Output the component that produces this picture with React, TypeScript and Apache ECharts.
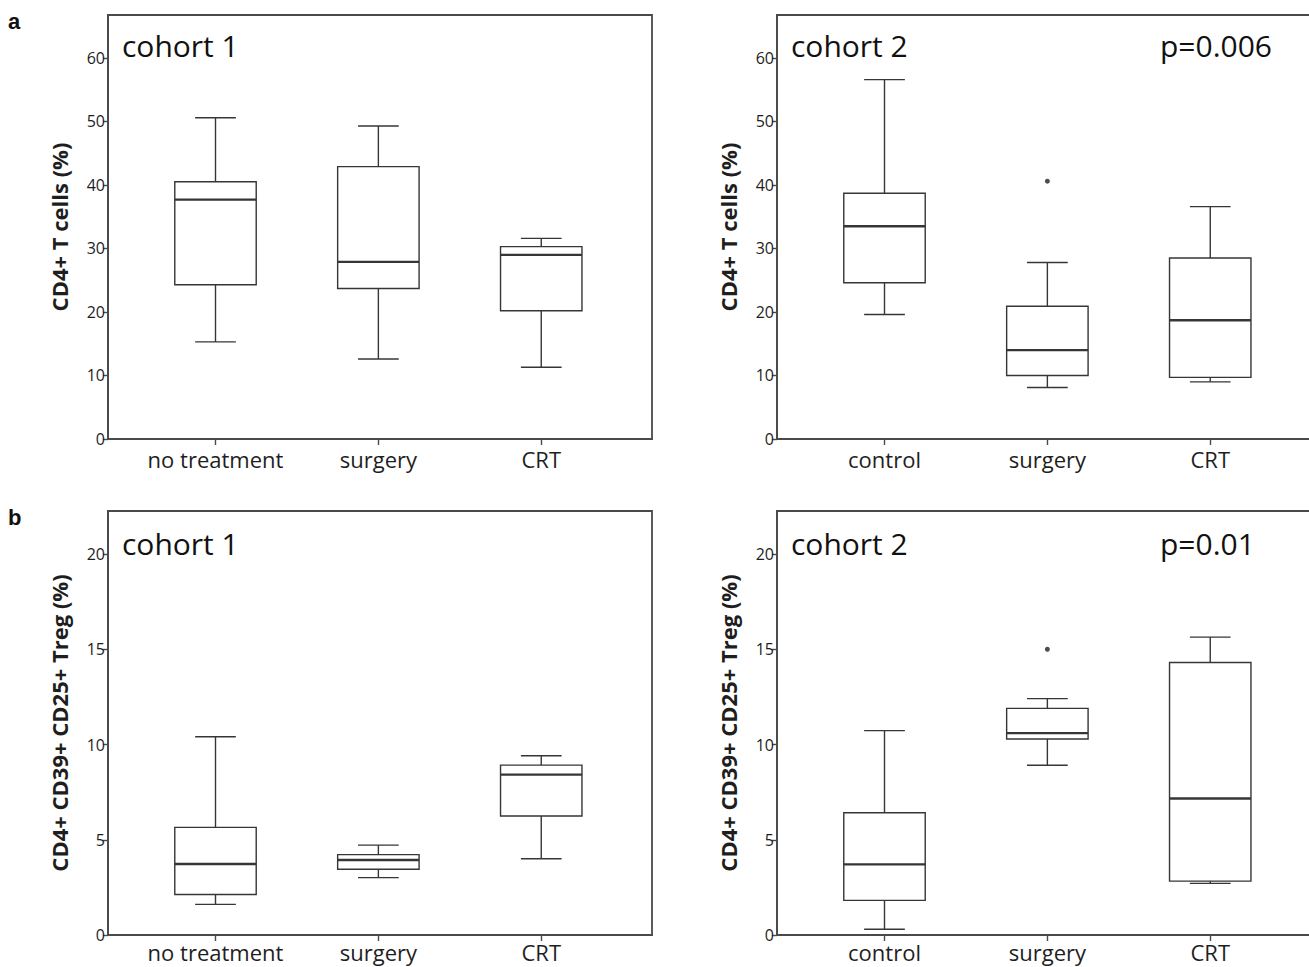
import React, { useEffect, useRef } from 'react';
import * as echarts from 'echarts';

// ---------- data ----------
const cohort1Categories = ['no treatment', 'surgery', 'CRT'];
const cohort2Categories = ['control', 'surgery', 'CRT'];

// each box: [lower whisker, Q1, median, Q3, upper whisker]
const cd4Cohort1 = [
  [15.3, 24.3, 37.7, 40.5, 50.6],
  [12.6, 23.7, 27.9, 42.9, 49.3],
  [11.3, 20.2, 29.0, 30.3, 31.6],
];
const cd4Cohort2 = [
  [19.6, 24.6, 33.5, 38.7, 56.6],
  [8.1, 10.0, 14.0, 20.9, 27.8],
  [9.0, 9.7, 18.7, 28.5, 36.6],
];
const cd4Cohort1Outliers: number[][] = [];
const cd4Cohort2Outliers = [[1, 40.6]];

const tregCohort1 = [
  [1.61, 2.13, 3.73, 5.65, 10.41],
  [3.01, 3.45, 3.94, 4.22, 4.72],
  [4.0, 6.25, 8.42, 8.92, 9.41],
];
const tregCohort2 = [
  [0.3, 1.82, 3.71, 6.42, 10.73],
  [8.91, 10.29, 10.6, 11.9, 12.41],
  [2.71, 2.83, 7.17, 14.31, 15.64],
];
const tregCohort1Outliers: number[][] = [];
const tregCohort2Outliers = [[1, 15.0]];

const cd4Ticks = [0, 10, 20, 30, 40, 50, 60];
const tregTicks = [0, 5, 10, 15, 20];
const cd4AxisMax = 66.77;
const tregAxisMax = 22.26;

const cd4Title = 'CD4+ T cells (%)';
const tregTitle = 'CD4+ CD39+ CD25+ Treg (%)';
const cohortLabels = ['cohort 1', 'cohort 2', 'cohort 1', 'cohort 2'];
const pValueLabels = ['', 'p=0.006', '', 'p=0.01'];
const rowLetters = ['a', 'b'];

// ---------- layout / style ----------
const FONT = '"Open Sans", "DejaVu Sans", sans-serif';
const AXIS_COLOR = '#4a4a4a';
const LINE_COLOR = '#363636';
const TEXT_COLOR = '#1e1e1e';
const BOX_WIDTH_RATIO = 0.5;
const CAP_WIDTH_RATIO = 0.25;
const X_MIN = -0.66;
const X_MAX = 2.68;

const panelLayout = [
  { left: 108, top: 15 },
  { left: 777, top: 15 },
  { left: 108, top: 511 },
  { left: 777, top: 511 },
];
const PANEL_W = 544;
const PANEL_H = 424;

const panels = [
  { cats: cohort1Categories, boxes: cd4Cohort1, outliers: cd4Cohort1Outliers, ticks: cd4Ticks, max: cd4AxisMax, title: cd4Title },
  { cats: cohort2Categories, boxes: cd4Cohort2, outliers: cd4Cohort2Outliers, ticks: cd4Ticks, max: cd4AxisMax, title: cd4Title },
  { cats: cohort1Categories, boxes: tregCohort1, outliers: tregCohort1Outliers, ticks: tregTicks, max: tregAxisMax, title: tregTitle },
  { cats: cohort2Categories, boxes: tregCohort2, outliers: tregCohort2Outliers, ticks: tregTicks, max: tregAxisMax, title: tregTitle },
];

const renderBox = (_params: any, api: any) => {
  const idx = api.value(0);
  const low = api.coord([idx, api.value(1)]);
  const cx = low[0];
  const yLow = low[1];
  const yQ1 = api.coord([idx, api.value(2)])[1];
  const yMed = api.coord([idx, api.value(3)])[1];
  const yQ3 = api.coord([idx, api.value(4)])[1];
  const yHigh = api.coord([idx, api.value(5)])[1];
  const unit = api.size([1, 0])[0];
  const bw = unit * BOX_WIDTH_RATIO;
  const cw = unit * CAP_WIDTH_RATIO;
  const line = (x1: number, y1: number, x2: number, y2: number, w: number) => ({
    type: 'line',
    shape: { x1, y1, x2, y2 },
    style: { stroke: LINE_COLOR, lineWidth: w },
  });
  return {
    type: 'group',
    children: [
      line(cx, yQ3, cx, yHigh, 1.4),
      line(cx, yQ1, cx, yLow, 1.4),
      line(cx - cw / 2, yHigh, cx + cw / 2, yHigh, 1.4),
      line(cx - cw / 2, yLow, cx + cw / 2, yLow, 1.4),
      {
        type: 'rect',
        shape: { x: cx - bw / 2, y: yQ3, width: bw, height: yQ1 - yQ3 },
        style: { fill: '#fff', stroke: LINE_COLOR, lineWidth: 1.4 },
      },
      line(cx - bw / 2, yMed, cx + bw / 2, yMed, 2.4),
    ],
  };
};

export default function App() {
  const ref = useRef<HTMLDivElement>(null);

  useEffect(() => {
    if (!ref.current) return;
    const chart = echarts.init(ref.current, undefined, { renderer: 'svg' });

    const grid = panels.map((_, i) => ({
      left: panelLayout[i].left,
      top: panelLayout[i].top,
      width: PANEL_W,
      height: PANEL_H,
      show: true,
      borderColor: AXIS_COLOR,
      borderWidth: 1.8,
      backgroundColor: 'transparent',
      containLabel: false,
      outerBoundsMode: 'none',
    }));

    const xAxis = panels.map((p, i) => ({
      type: 'value',
      gridIndex: i,
      min: X_MIN,
      max: X_MAX,
      axisLine: { show: true, onZero: false, lineStyle: { color: AXIS_COLOR, width: 1.8 } },
      axisTick: { show: true, customValues: [0, 1, 2], length: 6, lineStyle: { color: AXIS_COLOR, width: 1.4 } },
      axisLabel: {
        show: true,
        customValues: [0, 1, 2],
        formatter: (v: number) => p.cats[Math.round(v)] ?? '',
        color: TEXT_COLOR,
        fontFamily: FONT,
        fontSize: 22,
        lineHeight: 22,
        margin: i < 2 ? 9 : 6,
      },
      splitLine: { show: false },
    }));

    const yAxis = panels.map((p, i) => ({
      type: 'value',
      gridIndex: i,
      min: 0,
      max: p.max,
      name: p.title,
      nameLocation: 'middle',
      nameGap: 38,
      nameTextStyle: { fontFamily: FONT, fontWeight: 'bold', fontSize: 22, color: TEXT_COLOR },
      axisLine: { show: true, onZero: false, lineStyle: { color: AXIS_COLOR, width: 1.8 } },
      axisTick: { show: true, customValues: p.ticks, length: 5, lineStyle: { color: AXIS_COLOR, width: 1.4 } },
      axisLabel: {
        show: true,
        customValues: p.ticks,
        color: TEXT_COLOR,
        fontFamily: FONT,
        fontSize: 16,
        margin: 3,
      },
      splitLine: { show: false },
    }));

    const series: any[] = [];
    panels.forEach((p, i) => {
      series.push({
        type: 'custom',
        xAxisIndex: i,
        yAxisIndex: i,
        encode: { x: 0, y: [1, 2, 3, 4, 5] },
        data: p.boxes.map((b, k) => [k, ...b]),
        renderItem: renderBox,
        silent: true,
        clip: false,
      });
      if (p.outliers.length) {
        series.push({
          type: 'scatter',
          xAxisIndex: i,
          yAxisIndex: i,
          data: p.outliers,
          symbol: 'circle',
          symbolSize: 5,
          itemStyle: { color: '#222' },
          silent: true,
        });
      }
    });

    const graphic: any[] = [];
    rowLetters.forEach((letter, r) => {
      graphic.push({
        type: 'text',
        left: 8,
        top: r === 0 ? 10 : 506,
        style: { text: letter, font: `bold 22px Arial, "Liberation Sans", sans-serif`, fill: '#111' },
      });
    });
    panelLayout.forEach((pl, i) => {
      graphic.push({
        type: 'text',
        x: pl.left + 14,
        y: pl.top + (i < 2 ? 30 : 32),
        style: {
          text: cohortLabels[i],
          font: `30px ${FONT}`,
          fill: '#111',
          verticalAlign: 'middle',
          align: 'left',
        },
      });
      if (pValueLabels[i]) {
        graphic.push({
          type: 'text',
          x: pl.left + 383,
          y: pl.top + (i < 2 ? 30 : 32),
          style: {
            text: pValueLabels[i],
            font: `30px ${FONT}`,
            fill: '#111',
            verticalAlign: 'middle',
            align: 'left',
          },
        });
      }
    });

    chart.setOption({
      animation: false,
      backgroundColor: '#fff',
      grid,
      xAxis,
      yAxis,
      series,
      graphic,
    });

    return () => chart.dispose();
  }, []);

  return (
    <div
      ref={ref}
      style={{ position: 'absolute', left: 0, top: 0, width: 1309, height: 967 }}
    />
  );
}
